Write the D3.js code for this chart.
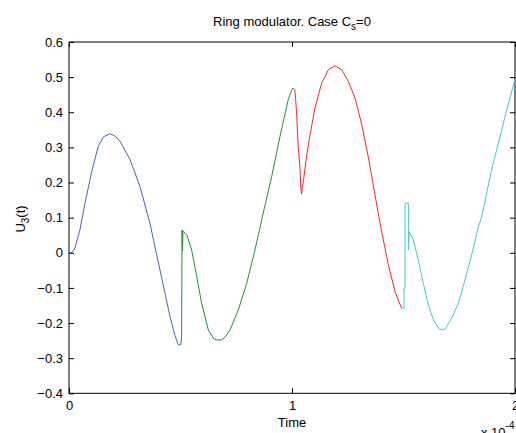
<!DOCTYPE html>
<html>
<head>
<meta charset="utf-8">
<script src="https://cdn.jsdelivr.net/npm/d3@7"></script>
<style>
  html, body { margin: 0; padding: 0; background: #fff; }
  svg { display: block; }
  text { font-family: "Liberation Sans", Arial, Helvetica, sans-serif; }
</style>
</head>
<body>
<script>
// Time in units of 1e-4 s, voltage U3(t)
const blueSeg = [[0.000,0.000],[0.012,0.001],[0.027,0.014],[0.049,0.065],[0.072,0.142],[0.102,0.231],[0.131,0.303],[0.155,0.330],[0.184,0.339],[0.205,0.333],[0.229,0.317],[0.274,0.265],[0.318,0.189],[0.363,0.084],[0.408,-0.049],[0.453,-0.182],[0.475,-0.235],[0.490,-0.262],[0.501,-0.262]];
const greenSeg = [[0.501,-0.262],[0.505,-0.240],[0.507,0.065],[0.509,0.005],[0.511,0.062],[0.528,0.051],[0.550,0.008],[0.573,-0.068],[0.595,-0.144],[0.625,-0.220],[0.650,-0.245],[0.662,-0.248],[0.685,-0.248],[0.700,-0.240],[0.722,-0.220],[0.759,-0.163],[0.797,-0.087],[0.834,0.008],[0.871,0.113],[0.909,0.217],[0.946,0.331],[0.983,0.436],[1.000,0.466],[1.006,0.469],[1.012,0.465]];
const redSeg = [[1.012,0.465],[1.016,0.440],[1.021,0.393],[1.028,0.298],[1.036,0.241],[1.040,0.180],[1.043,0.168],[1.047,0.190],[1.051,0.203],[1.066,0.279],[1.081,0.336],[1.103,0.412],[1.133,0.483],[1.163,0.521],[1.193,0.532],[1.223,0.521],[1.253,0.488],[1.283,0.440],[1.313,0.364],[1.343,0.270],[1.372,0.165],[1.402,0.060],[1.432,-0.034],[1.462,-0.111],[1.480,-0.140],[1.492,-0.158]];
const cyanSeg = [[1.492,-0.158],[1.502,-0.158],[1.502,-0.101],[1.507,-0.101],[1.507,0.141],[1.522,0.141],[1.522,0.008],[1.526,0.060],[1.544,0.037],[1.566,-0.020],[1.589,-0.087],[1.611,-0.148],[1.634,-0.191],[1.661,-0.218],[1.686,-0.218],[1.716,-0.186],[1.746,-0.144],[1.776,-0.077],[1.806,-0.005],[1.835,0.072],[1.851,0.103],[1.895,0.236],[1.933,0.331],[1.963,0.407],[2.000,0.493]];
const seriesColors = ["#4a64b8", "#2a8a3a", "#f0282d", "#4cc8c8"];
const xTicks = [0, 1, 2];
const yTicks = [-0.4, -0.3, -0.2, -0.1, 0, 0.1, 0.2, 0.3, 0.4, 0.5, 0.6];
const titleText = "Ring modulator. Case C";
const xLabelText = "Time";

const W = 516, H = 433;
const m = { left: 69, right: 1, top: 42, bottom: 39.7 };
const svg = d3.select("body").append("svg").attr("width", W).attr("height", H);

const x = d3.scaleLinear().domain([0, 2]).range([m.left, W - m.right]);
const y = d3.scaleLinear().domain([-0.4, 0.6]).range([H - m.bottom, m.top]);

const fs = 13;
const fmtY = d => (d === 0 ? "0" : d3.format(".1f")(d));

// axes
const gL = svg.append("g").attr("transform", `translate(${m.left},0)`)
  .call(d3.axisLeft(y).tickValues(yTicks).tickFormat(fmtY).tickSizeInner(-5).tickSizeOuter(0).tickPadding(6));
const gR = svg.append("g").attr("transform", `translate(${W - m.right},0)`)
  .call(d3.axisRight(y).tickValues(yTicks).tickFormat("").tickSizeInner(-5).tickSizeOuter(0));
const gB = svg.append("g").attr("transform", `translate(0,${H - m.bottom})`)
  .call(d3.axisBottom(x).tickValues(xTicks).tickFormat(d3.format("d")).tickSizeInner(-5).tickSizeOuter(0).tickPadding(7));
const gT = svg.append("g").attr("transform", `translate(0,${m.top})`)
  .call(d3.axisTop(x).tickValues(xTicks).tickFormat("").tickSizeInner(-5).tickSizeOuter(0));
[gL, gR, gB, gT].forEach(g => {
  g.select(".domain").remove();
  g.selectAll("line").attr("stroke", "#000");
  g.selectAll("text").attr("fill", "#000").style("font-size", fs + "px");
});

// box
svg.append("rect")
  .attr("x", x(0)).attr("y", y(0.6))
  .attr("width", x(2) - x(0)).attr("height", y(-0.4) - y(0.6))
  .attr("fill", "none").attr("stroke", "#000").attr("stroke-width", 1);

// lines
const line = d3.line().x(d => x(d[0])).y(d => y(d[1]));
[blueSeg, greenSeg, redSeg, cyanSeg].forEach((seg, i) => {
  svg.append("path").datum(seg)
    .attr("d", line)
    .attr("fill", "none")
    .attr("stroke", seriesColors[i])
    .attr("stroke-width", 1)
    .attr("stroke-linejoin", "round");
});

// title
const title = svg.append("text")
  .attr("x", (x(0) + x(2)) / 2).attr("y", 25.5)
  .attr("text-anchor", "middle").style("font-size", fs + "px").attr("fill", "#000");
title.append("tspan").text(titleText);
title.append("tspan").attr("dy", 4).style("font-size", "10px").text("s");
title.append("tspan").attr("dy", -4).text("=0");

// x label
svg.append("text")
  .attr("x", (x(0) + x(2)) / 2).attr("y", 427)
  .attr("text-anchor", "middle").style("font-size", fs + "px").attr("fill", "#000")
  .text(xLabelText);

// exponent
const ex = svg.append("text").attr("x", 481).attr("y", 437)
  .style("font-size", fs + "px").attr("fill", "#000");
ex.append("tspan").text("x 10");
ex.append("tspan").attr("dy", -8).style("font-size", "10px").text("-4");

// y label
const yl = svg.append("text")
  .attr("transform", `translate(25,219) rotate(-90)`)
  .attr("text-anchor", "middle").style("font-size", fs + "px").attr("fill", "#000");
yl.append("tspan").text("U");
yl.append("tspan").attr("dy", 4).style("font-size", "10px").text("3");
yl.append("tspan").attr("dy", -4).text("(t)");
</script>
</body>
</html>
